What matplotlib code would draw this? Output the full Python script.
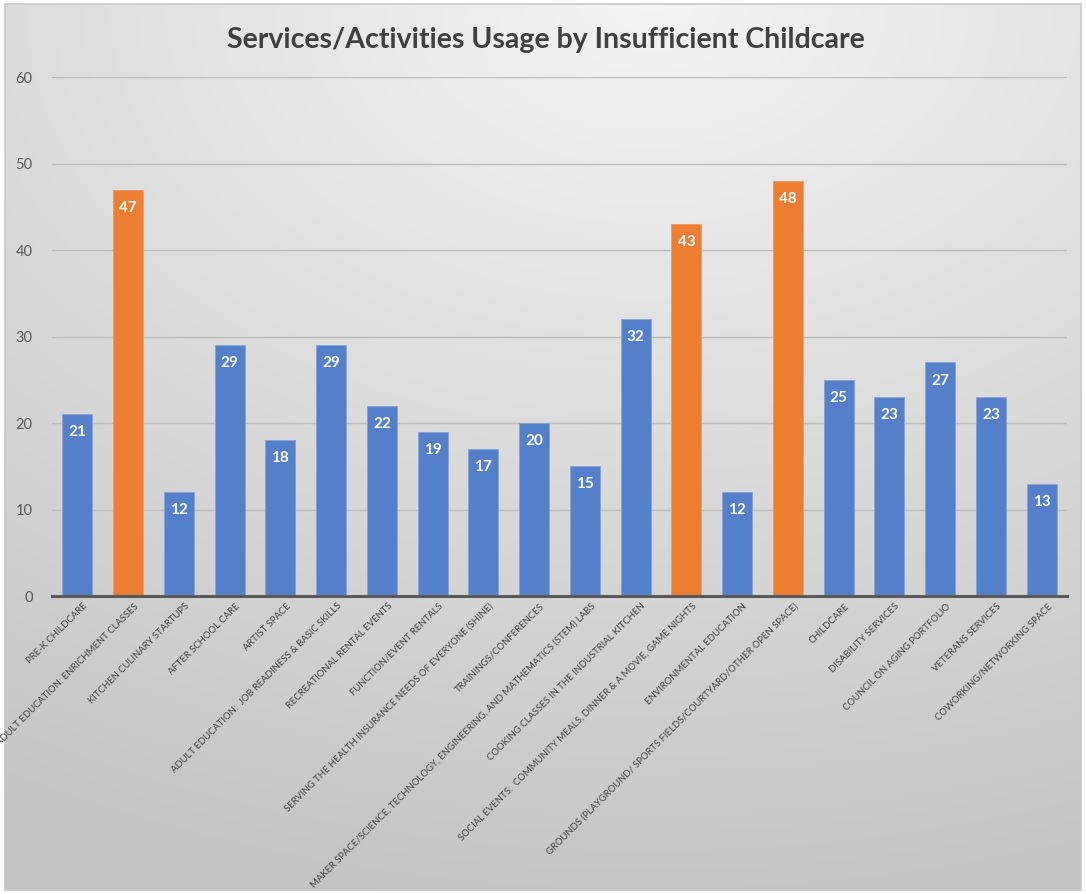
import numpy as np
import matplotlib
matplotlib.use("Agg")
import matplotlib.pyplot as plt
import matplotlib.transforms as mtransforms

plt.rcParams['font.family'] = ['Lato', 'DejaVu Sans']

categories = [
    "PRE-K CHILDCARE",
    "ADULT EDUCATION: ENRICHMENT CLASSES",
    "KITCHEN CULINARY STARTUPS",
    "AFTER SCHOOL CARE",
    "ARTIST SPACE",
    "ADULT EDUCATION:  JOB READINESS & BASIC SKILLS",
    "RECREATIONAL RENTAL EVENTS",
    "FUNCTION/EVENT RENTALS",
    "SERVING THE HEALTH INSURANCE NEEDS OF EVERYONE (SHINE)",
    "TRAININGS/CONFERENCES",
    "MAKER SPACE/SCIENCE, TECHNOLOGY, ENGINEERING, AND MATHEMATICS (STEM) LABS",
    "COOKING CLASSES IN THE INDUSTRIAL KITCHEN",
    "SOCIAL EVENTS:  COMMUNITY MEALS, DINNER & A MOVIE, GAME NIGHTS",
    "ENVIRONMENTAL EDUCATION",
    "GROUNDS (PLAYGROUND/ SPORTS FIELDS/COURTYARD/OTHER OPEN SPACE)",
    "CHILDCARE",
    "DISABILITY SERVICES",
    "COUNCIL ON AGING PORTFOLIO",
    "VETERANS SERVICES",
    "COWORKING/NETWORKING SPACE",
]
values = [21, 47, 12, 29, 18, 29, 22, 19, 17, 20, 15, 32, 43, 12, 48, 25, 23, 27, 23, 13]
highlight = [1, 12, 14]
yticks = [0, 10, 20, 30, 40, 50, 60]
title = "Services/Activities Usage by Insufficient Childcare"

BLUE = "#5480CB"
ORANGE = "#ED7D31"
colors = [ORANGE if i in highlight else BLUE for i in range(len(values))]

fig = plt.figure(figsize=(10.86, 8.94), dpi=100)
fig.patch.set_facecolor("white")

# background gradient
bg = fig.add_axes([0.005, 0.004, 0.99, 0.992], zorder=-10)
ny, nx = 300, 360
yy, xx = np.mgrid[0:ny, 0:nx]
xn = xx / (nx - 1)
yn = yy / (ny - 1)  # 0 top
d = np.sqrt(((xn - 0.6) * 1.0) ** 2 + ((yn - 0.0) * 1.2) ** 2)
val = 0.955 - 0.19 * np.clip(d, 0, 1.25) / 1.25
img = np.dstack([val, val, val])
bg.imshow(img, aspect="auto", extent=[0, 1, 0, 1], interpolation="bilinear")
bg.set_xlim(0, 1); bg.set_ylim(0, 1)
for s in bg.spines.values():
    s.set_edgecolor("#c8c8c8"); s.set_linewidth(1.2)
bg.set_xticks([]); bg.set_yticks([])

ax = fig.add_axes([0.0479, 0.3333, 0.9346, 0.5805])
ax.set_facecolor("none")
x = np.arange(len(values))
ax.bar(x, values, width=0.59, color=colors, edgecolor=[
    "#86a3d8" if c == BLUE else "#f19a5e" for c in colors], linewidth=0.6, zorder=3)
ax.set_xlim(-0.5, len(values) - 0.5)
ax.set_ylim(0, 60)
ax.set_yticks(yticks)
ax.yaxis.grid(True, color="#bdbdbd", linewidth=1.0, zorder=0)
ax.set_axisbelow(True)
for s in ["top", "right", "left"]:
    ax.spines[s].set_visible(False)
ax.spines["bottom"].set_color("#595959")
ax.spines["bottom"].set_linewidth(2.2)
ax.spines["bottom"].set_zorder(4)
ax.tick_params(axis="y", length=0, pad=14, labelsize=10.5, labelcolor="#595959")
ax.tick_params(axis="x", length=0, pad=4)
ax.set_xticks(x)
ax.set_xticklabels(categories, rotation=45, ha="right", va="top",
                   rotation_mode="anchor", fontsize=6.85, color="#404040")
offset = mtransforms.ScaledTranslation(4 / 72, 0, fig.dpi_scale_trans)
for lab in ax.get_xticklabels():
    lab.set_transform(lab.get_transform() + offset)

for xi, v in zip(x, values):
    ax.annotate(str(v), (xi, v), xytext=(0, -13), textcoords="offset points",
                ha="center", va="center", color="white", fontsize=11,
                fontweight="bold", zorder=5)

fig.text(0.5025, 0.955, title, ha="center", va="center", fontsize=20.5,
         fontweight="bold", color="#404040")

fig.savefig("out.png", dpi=100)
